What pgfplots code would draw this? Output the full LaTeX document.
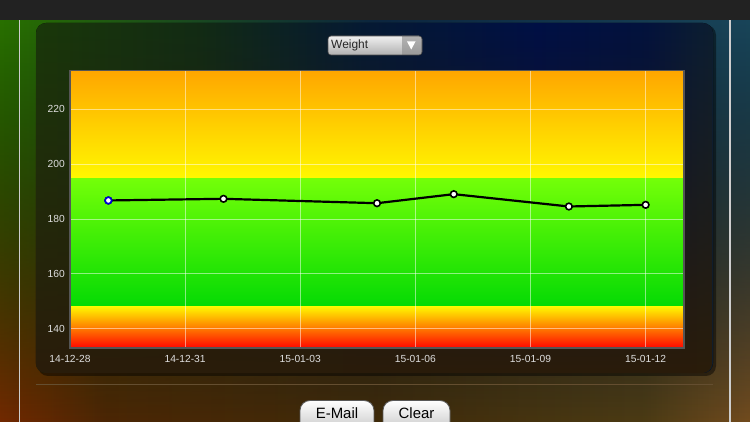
\documentclass[border=0pt]{standalone}
\usepackage{fontspec}
\setmainfont{Liberation Sans}
\usepackage{pgfplots}
\pgfplotsset{compat=1.18}
\usetikzlibrary{fadings}

\definecolor{topbar}{RGB}{34,34,34}
\definecolor{vline}{RGB}{205,205,205}
\definecolor{bandorange}{RGB}{255,166,0}
\definecolor{bandyellow}{RGB}{255,248,0}
\definecolor{greentop}{RGB}{115,255,8}
\definecolor{greenbot}{RGB}{4,218,4}
\definecolor{lowyellow}{RGB}{255,245,0}
\definecolor{loworange}{RGB}{255,150,0}
\definecolor{lowred}{RGB}{255,8,0}
\definecolor{borderg}{RGB}{85,85,85}
\definecolor{ticktext}{RGB}{222,222,222}
\definecolor{panelbrown}{RGB}{42,28,10}
\definecolor{sepline}{RGB}{100,78,48}
\definecolor{markblue}{RGB}{0,0,215}

\pgfdeclarehorizontalshading{bgbottom}{100bp}{rgb(0bp)=(0.45,0.16,0.0); rgb(25bp)=(0.45,0.16,0.0); rgb(32bp)=(0.30,0.15,0.02); rgb(50bp)=(0.25,0.17,0.04); rgb(68bp)=(0.30,0.23,0.08); rgb(75bp)=(0.45,0.30,0.12); rgb(100bp)=(0.45,0.30,0.12)}
\pgfdeclarehorizontalshading{bgtop}{100bp}{rgb(0bp)=(0.16,0.44,0.0); rgb(25bp)=(0.16,0.44,0.0); rgb(50bp)=(0.05,0.15,0.25); rgb(75bp)=(0.10,0.27,0.35); rgb(100bp)=(0.10,0.27,0.35)}
\pgfdeclarehorizontalshading{panelh}{100bp}{rgb(0bp)=(0.10,0.22,0.04); rgb(25bp)=(0.10,0.22,0.04); rgb(37bp)=(0.07,0.17,0.08); rgb(49bp)=(0.02,0.10,0.20); rgb(62bp)=(0.0,0.06,0.27); rgb(70bp)=(0.01,0.07,0.24); rgb(75bp)=(0.05,0.12,0.19); rgb(100bp)=(0.05,0.12,0.19)}

\tikzfading[name=fadedownx, top color=transparent!0, bottom color=transparent!100]
\tikzfading[name=fadeupx, top color=transparent!100, bottom color=transparent!0]

\pgfplotsset{
  commonaxis/.style={
    at={(70bp,74.3bp)}, anchor=south west,
    scale only axis, width=614bp, height=277.2bp,
    xmin=0, xmax=16, ymin=133.1, ymax=234.2,
  }
}

\begin{document}
\begin{tikzpicture}
\begin{scope}[x=1bp,y=1bp]
\clip (0,0) rectangle (750,422);
% background
\fill[shading=bgbottom] (0,0) rectangle (750,402);
\fill[shading=bgtop, path fading=fadedownx] (0,0) rectangle (750,402);
\fill[topbar] (0,402) rectangle (750,422);
\draw[line width=1.5bp, vline] (19.5,0) -- (19.5,402);
\draw[line width=1.5bp, vline] (730,0) -- (730,402);
% panel
\fill[black, opacity=0.45, rounded corners=10bp] (38,46) rectangle (716,397);
\fill[shading=panelh, rounded corners=10bp] (36,49) rectangle (713,399);
\fill[panelbrown, path fading=fadeupx, rounded corners=10bp] (36,49) rectangle (713,399);
\draw[sepline, line width=1bp] (36,37) -- (713,37);
% dropdown
\fill[rounded corners=3bp, top color=gray!12, bottom color=gray!62] (328,367) rectangle (422,386);
\begin{scope}
\clip[rounded corners=3bp] (328,367) rectangle (422,386);
\fill[top color=gray!60, bottom color=gray!80] (402,367) rectangle (422,386);
\end{scope}
\draw[black!70, line width=0.6bp, rounded corners=3bp] (328,367) rectangle (422,386);
\fill[white] (407,380.5) -- (415.5,380.5) -- (411.25,372.5) -- cycle;
\node[anchor=west, font=\fontsize{12}{14}\selectfont, text=black!85, inner sep=0pt] at (331,376.5) {Weight};
% buttons
\draw[black!65, line width=0.8bp, top color=white, bottom color=gray!45, rounded corners=10bp] (300,-10) rectangle (374,21.5);
\node[font=\fontsize{15}{18}\selectfont, inner sep=0pt] at (337,8.5) {E-Mail};
\draw[black!65, line width=0.8bp, top color=white, bottom color=gray!45, rounded corners=10bp] (383,-10) rectangle (450,21.5);
\node[font=\fontsize{15}{18}\selectfont, inner sep=0pt] at (416.5,8.5) {Clear};
\end{scope}

% colour bands
\begin{axis}[commonaxis, hide axis]
\fill[top color=bandorange, bottom color=bandyellow] (axis cs:0,194.7) rectangle (axis cs:16,234.2);
\fill[top color=greentop, bottom color=greenbot] (axis cs:0,148) rectangle (axis cs:16,194.7);
\fill[top color=lowyellow, middle color=loworange, bottom color=lowred] (axis cs:0,133.1) rectangle (axis cs:16,148);
\end{axis}

\begin{axis}[
  commonaxis,
  xtick={0,3,6,9,12,15},
  xticklabels={14-12-28,14-12-31,15-01-03,15-01-06,15-01-09,15-01-12},
  ytick={140,160,180,200,220},
  grid=major,
  major grid style={draw=white, draw opacity=0.5, line width=0.9bp},
  major tick length=0pt,
  axis line style={draw=borderg, line width=1.8bp},
  tick label style={font=\fontsize{10.3}{12}\selectfont, text=ticktext},
  xticklabel style={yshift=-4bp},
  yticklabel style={xshift=-1.7bp},
  /pgf/number format/assume math mode=true,
]
\addplot[black, line width=2.2bp, mark=*, mark size=3.3bp, mark options={fill=white, draw=black, line width=1.6bp}]
  coordinates {(1,186.8) (4,187.4) (8,185.8) (10,189.1) (13,184.6) (15,185.2)};
\addplot[only marks, mark=*, mark size=3.3bp, mark options={fill=white, draw=markblue, line width=1.7bp}]
  coordinates {(1,186.8)};
\end{axis}
\pgfresetboundingbox
\path[use as bounding box] (0,0) rectangle (750bp,422bp);
\end{tikzpicture}
\end{document}
